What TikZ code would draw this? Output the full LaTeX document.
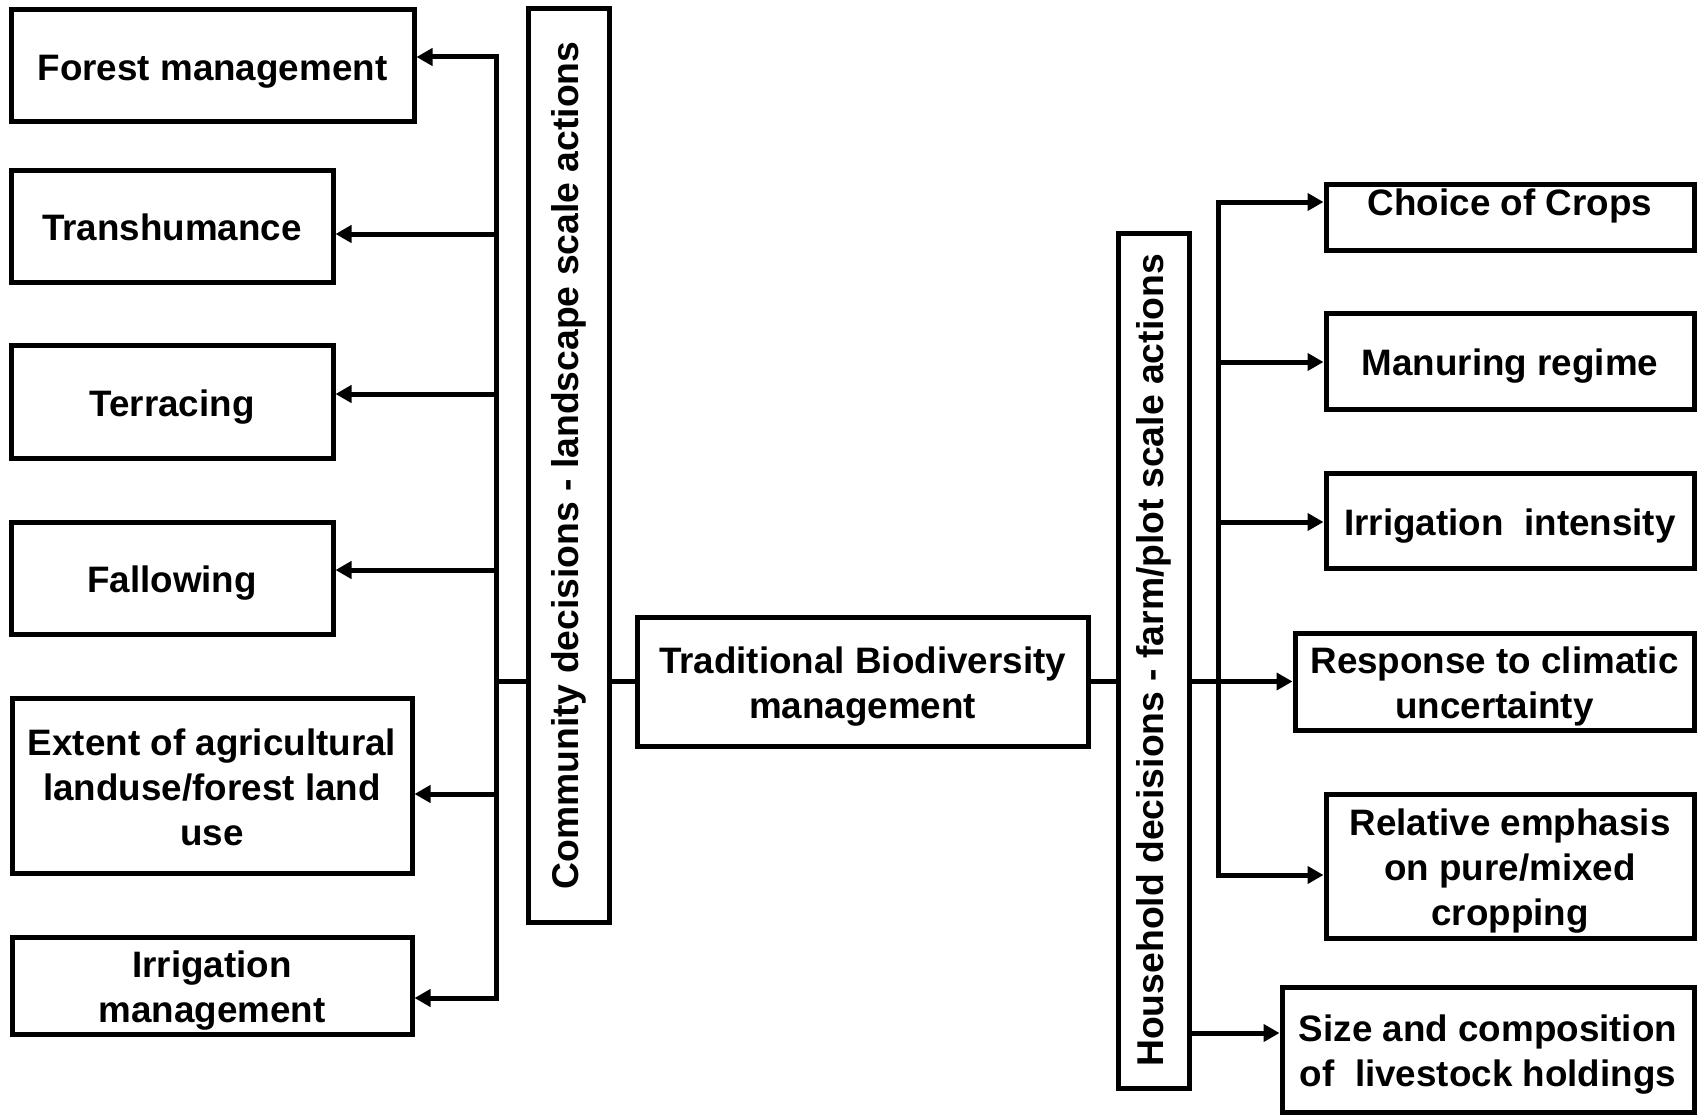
\documentclass[tikz,border=0pt]{standalone}
\usepackage{fontspec}
\setmainfont{Liberation Sans}
\usetikzlibrary{arrows.meta}
% fixed ascent/descent so that every box centres its text the same way
\newcommand\boxstrut{\rule[-8pt]{0pt}{45.4pt}}
\begin{document}
\begin{tikzpicture}[x=1pt,y=-1pt,
  frame/.style={draw,line width=5pt,inner sep=0pt,align=center},
  box/.style={frame,font=\fontsize{36.8}{45}\selectfont\bfseries,
    execute at begin node={\boxstrut},
    execute at end node={\rule[-8pt]{0pt}{8pt}}},
  vbox/.style={frame,rotate=90,font=\fontsize{37.3}{45}\selectfont\bfseries},
  link/.style={line width=5pt,line cap=rect},
  arr/.style={line width=5pt,line cap=rect,-{Triangle[length=16pt,width=17pt]}}]
\useasboundingbox (0,0) rectangle (1701,1116);

% community level (left)
\node[box,minimum width=403,minimum height=111] (fm) at (212.5,65.5) {Forest management};
\node[box,minimum width=322,minimum height=112] (tr) at (172,226) {Transhumance};
\node[box,minimum width=322,minimum height=113] (te) at (172,401.5) {Terracing};
\node[box,minimum width=322,minimum height=112] (fa) at (172,578) {Fallowing};
\node[box,minimum width=400,minimum height=175] (ex) at (212,785.5) {\boxstrut Extent of agricultural\\landuse/forest land\\use};
\node[box,minimum width=400,minimum height=97] (ir) at (212,985.5) {\boxstrut Irrigation\\management};
\node[vbox,minimum width=913,minimum height=81] (cd) at (568.5,465.5) {Community decisions - landscape scale actions};

% centre
\node[box,minimum width=451,minimum height=129] (tb) at (862.5,681.5) {\boxstrut Traditional Biodiversity\\management};

% household level (right)
\node[vbox,minimum width=855,minimum height=71] (hd) at (1153.5,660.5) {Household decisions - farm/plot scale actions};
\node[box,minimum width=368,minimum height=66] (cc) at (1510,217) {\raisebox{16pt}[0pt][0pt]{Choice of Crops}};
\node[box,minimum width=368,minimum height=96] (mr) at (1510,361) {Manuring regime};
\node[box,minimum width=368,minimum height=95] (ii) at (1510,520.5) {Irrigation~ intensity};
\node[box,minimum width=399,minimum height=97] (rc) at (1494.5,681.5) {\boxstrut Response to climatic\\uncertainty};
\node[box,minimum width=368,minimum height=144] (re) at (1510,866) {\boxstrut Relative emphasis\\on pure/mixed\\cropping};
\node[box,minimum width=412,minimum height=125] (sz) at (1488,1049.5) {\boxstrut Size and composition\\of~ livestock holdings};

% left trunk and branches
\coordinate (lt) at (496,57);
\coordinate (lb) at (496,998);
\coordinate (l2) at (496,234);
\coordinate (l3) at (496,394);
\coordinate (l4) at (496,570);
\coordinate (l5) at (496,794);
\coordinate (lj) at (496,681.5);
\draw[link] (lt) -- (lb);
\draw[arr] (lt) -- (lt -| fm.east);
\draw[arr] (l2) -- (l2 -| tr.east);
\draw[arr] (l3) -- (l3 -| te.east);
\draw[arr] (l4) -- (l4 -| fa.east);
\draw[arr] (l5) -- (l5 -| ex.east);
\draw[arr] (lb) -- (lb -| ir.east);
\draw[link] (lj) -- (lj -| cd.north);

% centre links
\draw[link] (tb.west -| cd.south) -- (tb.west);
\draw[link] (tb.east) -- (tb.east -| hd.north);
\draw[arr] (rc.west -| hd.south) -- (rc.west);

% right trunk and branches
\coordinate (rt) at (1218,202);
\coordinate (r2) at (1218,362);
\coordinate (r3) at (1218,522);
\coordinate (rb) at (1218,875);
\draw[link] (rt) -- (rb);
\draw[arr] (rt) -- (rt -| cc.west);
\draw[arr] (r2) -- (r2 -| mr.west);
\draw[arr] (r3) -- (r3 -| ii.west);
\draw[arr] (rb) -- (rb -| re.west);
\coordinate (hs) at (hd.south |- 0,1033);
\draw[arr] (hs) -- (hs -| sz.west);
\end{tikzpicture}
\end{document}
